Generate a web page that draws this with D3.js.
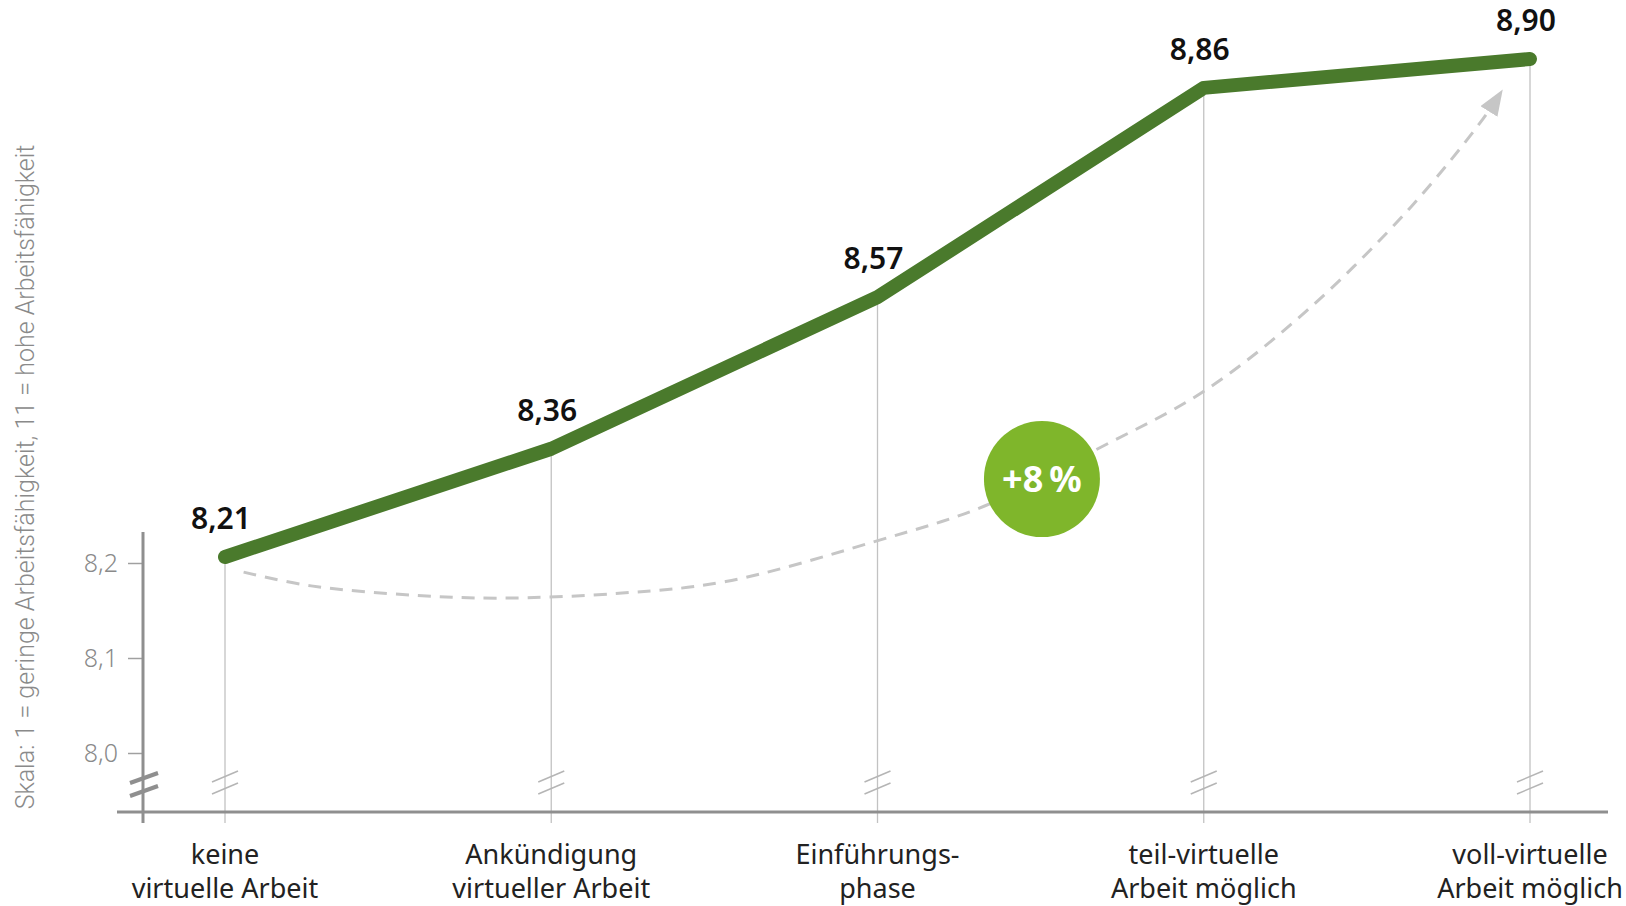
<!DOCTYPE html>
<html>
<head>
<meta charset="utf-8">
<script src="https://cdn.jsdelivr.net/npm/d3@7"></script>
<style>
  body { margin: 0; background: #fff; }
  svg { display: block; }
</style>
</head>
<body>
<div id="chart"></div>
<script>
// categories (two lines each)
var categories = [
    ["keine", "virtuelle Arbeit"],
    ["Ankündigung", "virtueller Arbeit"],
    ["Einführungs-", "phase"],
    ["teil-virtuelle", "Arbeit möglich"],
    ["voll-virtuelle", "Arbeit möglich"]
];
var values = [8.21, 8.36, 8.57, 8.86, 8.90];
var axis_ticks = [8.0, 8.1, 8.2];
var y_title = "Skala: 1 = geringe Arbeitsfähigkeit, 11 = hohe Arbeitsfähigkeit";
var growth_label = "+8\u2009%";

// dashed trend arrow, as [category position, value]
var trend_points = [
    [0.057, 8.189], [0.264, 8.170], [0.582, 8.157], [0.836, 8.153],
    [1.217, 8.160], [1.535, 8.176], [1.996, 8.232], [2.330, 8.281],
    [2.680, 8.361], [2.998, 8.439], [3.315, 8.551], [3.633, 8.694],
    [3.856, 8.817], [3.910, 8.853]
];
var badge_pos = [2.504, 8.318];

var width = 1626, height = 906;
var base_y = 812;

var svg = d3.select("#chart").append("svg")
    .attr("width", width)
    .attr("height", height);

var x = d3.scaleLinear().domain([0, categories.length - 1]).range([225, 1530]);
// scale used for the line values
var y = d3.scaleLinear().domain([8.21, 8.90]).range([557, 59]);
// scale used for the (broken) axis near the bottom
var y_axis = d3.scaleLinear().domain([8.0, 8.2]).range([753, 563]);

var grey = "#8f8f8f";
var font = "'Noto Sans', 'Open Sans', sans-serif";

// vertical guide lines
svg.selectAll(".guide")
    .data(values)
    .enter()
    .append("line")
        .attr("x1", function(d, i) { return x(i); })
        .attr("x2", function(d, i) { return x(i); })
        .attr("y1", function(d) { return y(d); })
        .attr("y2", base_y + 11)
        .style("stroke", "#c2c2c2")
        .style("stroke-width", "1.3px");

// break marks on the guides
[0, 12].forEach(function(off) {
    svg.selectAll(".brk" + off)
        .data(values)
        .enter()
        .append("line")
            .attr("x1", function(d, i) { return x(i) - 13; })
            .attr("x2", function(d, i) { return x(i) + 13; })
            .attr("y1", 782 + off)
            .attr("y2", 771 + off)
            .style("stroke", "#b5b5b5")
            .style("stroke-width", "1.5px");
});

// baseline
svg.append("line")
    .attr("x1", 117).attr("x2", 1608)
    .attr("y1", base_y).attr("y2", base_y)
    .style("stroke", grey)
    .style("stroke-width", "3px");

// y axis
var axis_x = 143;
var y_axis_g = svg.append("g")
    .attr("transform", "translate(" + axis_x + ",0)")
    .call(d3.axisLeft(y_axis)
        .tickValues(axis_ticks)
        .tickSize(15)
        .tickPadding(10)
        .tickFormat(function(d) { return d3.format(".1f")(d).replace(".", ","); }));
y_axis_g.select(".domain").remove();
y_axis_g.selectAll(".tick line").style("stroke", "#a0a0a0").style("stroke-width", "1.5px");
y_axis_g.selectAll(".tick text")
    .style("font-family", font)
    .style("font-weight", 300)
    .style("font-size", "25px")
    .style("fill", "#8a8a8a");

svg.append("line")
    .attr("x1", axis_x).attr("x2", axis_x)
    .attr("y1", 532).attr("y2", base_y + 11)
    .style("stroke", grey)
    .style("stroke-width", "3px");

// axis break
[0, 13].forEach(function(off) {
    svg.append("line")
        .attr("x1", axis_x - 13).attr("x2", axis_x + 15)
        .attr("y1", 783 + off).attr("y2", 773 + off)
        .style("stroke", grey)
        .style("stroke-width", "4px");
});

// y title
svg.append("text")
    .attr("transform", "translate(34," + 477 + ") rotate(-90)")
    .attr("text-anchor", "middle")
    .style("font-family", "Roboto, sans-serif")
    .style("font-weight", 300)
    .style("font-size", "25px")
    .style("fill", "#8a8a8a")
    .text(y_title);

// dashed trend arrow
var defs = svg.append("defs");
defs.append("marker")
    .attr("id", "arrow")
    .attr("markerUnits", "userSpaceOnUse")
    .attr("viewBox", "0 -10 26 20")
    .attr("refX", 22)
    .attr("refY", 0)
    .attr("markerWidth", 26)
    .attr("markerHeight", 20)
    .attr("orient", "auto")
    .append("path")
        .attr("d", "M0,-10L26,0L0,10Z")
        .style("fill", "#c6c6c6");

svg.append("path")
    .datum(trend_points)
    .attr("fill", "none")
    .style("stroke", "#c6c6c6")
    .style("stroke-width", "3px")
    .style("stroke-dasharray", "13,9")
    .attr("marker-end", "url(#arrow)")
    .attr("d", d3.line()
        .curve(d3.curveCatmullRom)
        .x(function(d) { return x(d[0]); })
        .y(function(d) { return y(d[1]); }));

// badge
svg.append("circle")
    .attr("cx", x(badge_pos[0]))
    .attr("cy", y(badge_pos[1]))
    .attr("r", 58)
    .style("fill", "#7fb62b");
svg.append("text")
    .attr("x", x(badge_pos[0]))
    .attr("y", y(badge_pos[1]) + 13)
    .attr("text-anchor", "middle")
    .style("font-family", font)
    .style("font-weight", 700)
    .style("font-size", "36px")
    .style("fill", "#fff")
    .text(growth_label);

// main line
svg.append("path")
    .datum(values)
    .attr("fill", "none")
    .style("stroke", "#4a7a2c")
    .style("stroke-width", "14px")
    .style("stroke-linecap", "round")
    .style("stroke-linejoin", "round")
    .attr("d", d3.line()
        .x(function(d, i) { return x(i); })
        .y(function(d) { return y(d); }));

// value labels
svg.selectAll(".val")
    .data(values)
    .enter()
    .append("text")
        .attr("x", function(d, i) { return x(i) - 4; })
        .attr("y", function(d) { return y(d) - 28; })
        .attr("text-anchor", "middle")
        .style("font-family", font)
        .style("font-weight", 600)
        .style("font-size", "30px")
        .style("fill", "#111")
        .text(function(d) { return d3.format(".2f")(d).replace(".", ","); });

// category labels
var cat = svg.selectAll(".cat")
    .data(categories)
    .enter()
    .append("text")
        .attr("text-anchor", "middle")
        .style("font-family", font)
        .style("font-size", "27px")
        .style("fill", "#222");
cat.selectAll("tspan")
    .data(function(d, i) { return d.map(function(t) { return {t: t, i: i}; }); })
    .enter()
    .append("tspan")
        .attr("x", function(d) { return x(d.i); })
        .attr("y", function(d, j) { return 864 + j * 34; })
        .text(function(d) { return d.t; });
</script>
</body>
</html>
